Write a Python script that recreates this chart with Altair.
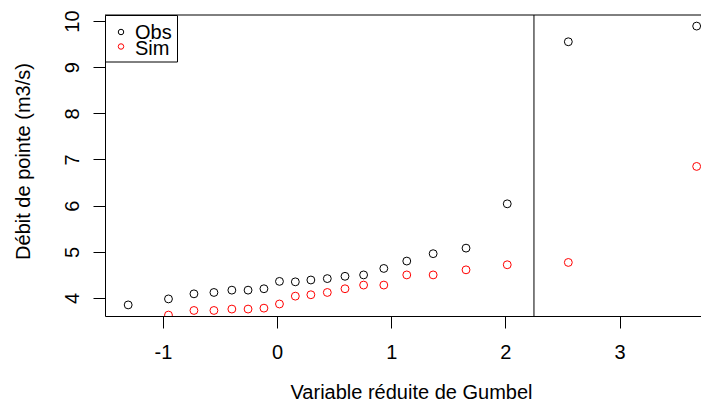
import altair as alt
import pandas as pd

# Gumbel reduced variate (plotting positions)
gumbel_x = [-1.304, -0.951, -0.728, -0.553, -0.396, -0.254, -0.115, 0.021,
            0.160, 0.296, 0.440, 0.595, 0.758, 0.935, 1.136, 1.367, 1.655,
            2.016, 2.551, 3.675]
# Observed peak discharges (m3/s)
obs_y = [3.85, 3.98, 4.09, 4.12, 4.17, 4.17, 4.20, 4.36, 4.35, 4.39, 4.42,
         4.47, 4.50, 4.64, 4.80, 4.96, 5.08, 6.04, 9.55, 9.89]
# Simulated peak discharges (m3/s); the first one lies below the visible range
sim_x = gumbel_x[1:]
sim_y = [3.63, 3.73, 3.73, 3.76, 3.76, 3.78, 3.87, 4.04, 4.07, 4.12, 4.20,
         4.28, 4.28, 4.50, 4.50, 4.61, 4.72, 4.77, 6.85]
series_names = ["Obs", "Sim"]
series_colors = ["black", "red"]
x_ticks = [-1, 0, 1, 2, 3]
y_ticks = [4, 5, 6, 7, 8, 9, 10]
x_domain = [-1.507, 3.713]
y_domain = [3.61, 10.13]
return_period_line = [2.25]

FONT = "Liberation Sans"

df = pd.concat([
    pd.DataFrame({"serie": "Obs", "u": gumbel_x, "q": obs_y}),
    pd.DataFrame({"serie": "Sim", "u": sim_x, "q": sim_y}),
], ignore_index=True)

xscale = alt.Scale(domain=x_domain, nice=False, zero=False)
yscale = alt.Scale(domain=y_domain, nice=False, zero=False)

points = alt.Chart(df).mark_point(
    shape="circle", filled=False, strokeWidth=1, size=62, clip=True, opacity=1
).encode(
    x=alt.X("u:Q", scale=xscale, axis=alt.Axis(
        values=x_ticks, title="Variable réduite de Gumbel", grid=False,
        domain=True, domainColor="black", domainWidth=1,
        tickSize=12, tickColor="black", labelPadding=14,
        labelExpr="'' + datum.value",
        labelFontSize=20, titleFontSize=20, titleFontWeight="normal",
        titleX=306, titleY=82, titleBaseline="alphabetic", titleAlign="center",
        labelColor="black", titleColor="black", labelFlush=False)),
    y=alt.Y("q:Q", scale=yscale, axis=alt.Axis(
        values=y_ticks, title="Débit de pointe (m3/s)", grid=False,
        domain=True, domainColor="black", domainWidth=1,
        tickSize=12, tickColor="black", labelPadding=15,
        labelAngle=-90, labelAlign="center", labelBaseline="alphabetic",
        labelFontSize=20, titleFontSize=20, titleFontWeight="normal",
        titleX=-76, titleY=146, titleBaseline="alphabetic", titleAlign="center",
        titleAngle=-90, labelColor="black", titleColor="black", labelFlush=False)),
    color=alt.Color("serie:N", scale=alt.Scale(domain=series_names, range=series_colors),
                    legend=None),
)

vline = alt.Chart(pd.DataFrame({"u": return_period_line})).mark_rule(
    color="black", strokeWidth=1
).encode(x=alt.X("u:Q", scale=xscale))

# top edge of the plot frame (the right edge lies outside the picture)
top_edge = alt.Chart(pd.DataFrame({"q": [y_domain[1]]})).mark_rule(
    color="black", strokeWidth=1
).encode(y=alt.Y("q:Q", scale=yscale))

# legend box in the top-left corner (R style, tight line spacing)
legend_layers = [
    alt.Chart(pd.DataFrame({"k": [0]})).mark_rect(
        fill="white", stroke="black", strokeWidth=1
    ).encode(x=alt.value(0.5), x2=alt.value(72.5), y=alt.value(0.5), y2=alt.value(47))
]
for i, (name, col) in enumerate(zip(series_names, series_colors)):
    row = pd.DataFrame({"serie": [name]})
    legend_layers.append(
        alt.Chart(row).mark_point(shape="circle", filled=False, strokeWidth=1,
                                  size=30, color=col, opacity=1)
        .encode(x=alt.value(16), y=alt.value(17 + 14.5 * i))
    )
    legend_layers.append(
        alt.Chart(row).mark_text(align="left", baseline="alphabetic", fontSize=20,
                                 font=FONT, color="black")
        .encode(x=alt.value(30), y=alt.value(24.3 + 15.7 * i), text="serie:N")
    )

chart = alt.layer(vline, top_edge, points, *legend_layers).properties(
    width=596, height=301,
    autosize=alt.AutoSizeParams(type="none"),
    padding={"left": 97, "top": 7, "right": 0, "bottom": 87},
).configure(font=FONT, background="white").configure_view(
    stroke=None
).configure_axis(labelFont=FONT, titleFont=FONT)

chart.save("out.html", embed_options={"renderer": "svg", "actions": False})
